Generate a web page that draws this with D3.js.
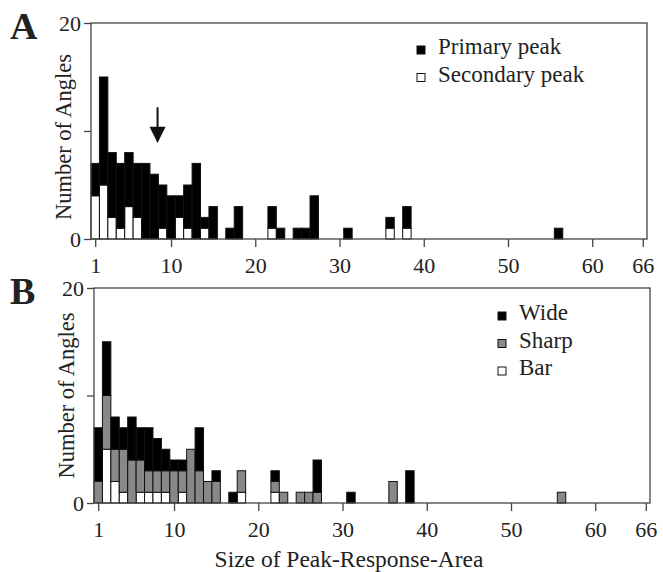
<!DOCTYPE html>
<html>
<head>
<meta charset="utf-8">
<script src="https://cdn.jsdelivr.net/npm/d3@7"></script>
<style>
  body { margin: 0; background: #fff; }
  text { font-family: "Liberation Serif", "Times New Roman", serif; fill: #222; }
</style>
</head>
<body>
<svg id="chart" width="663" height="572"></svg>
<script>
// bin centres (size of peak-response-area) that have any counts
const sizes = [1, 2, 3, 4, 5, 6, 7, 8, 9, 10, 11, 12, 13, 14, 15, 17, 18, 22, 23, 25, 26, 27, 31, 36, 38, 56];

// panel A
const primary   = [3, 10, 6, 6, 5, 5, 7, 6, 4, 4, 2, 4, 7, 1, 3, 1, 3, 2, 1, 1, 1, 4, 1, 1, 2, 1];
const secondary = [4, 5, 2, 1, 3, 2, 0, 0, 1, 0, 2, 1, 0, 1, 0, 0, 0, 1, 0, 0, 0, 0, 0, 1, 1, 0];
const meanSize = 8.4;

// panel B
const barType   = [0, 5, 2, 1, 0, 1, 1, 1, 1, 0, 1, 0, 0, 0, 0, 0, 1, 1, 0, 0, 0, 0, 0, 0, 0, 0];
const sharpType = [2, 5, 3, 4, 4, 3, 2, 2, 2, 3, 2, 5, 3, 2, 2, 0, 2, 1, 1, 1, 1, 1, 0, 2, 0, 1];
const wideType  = [5, 5, 3, 2, 4, 3, 4, 3, 2, 1, 1, 0, 4, 0, 1, 1, 0, 1, 0, 0, 0, 3, 1, 0, 3, 0];

const xTicks = [1, 10, 20, 30, 40, 50, 60, 66];
const yTicks = [0, 10, 20];
const yLabelled = [0, 20];

const svg = d3.select("#chart");

function drawPanel(opt) {
    const x = d3.scaleLinear().domain([0.5, 66.5]).range([opt.left, opt.right]);
    const y = d3.scaleLinear().domain([0, 20]).range([opt.bottom, opt.top]);
    const g = svg.append("g");

    const rows = sizes.map((s, i) => {
        const r = { size: s };
        opt.series.forEach(se => r[se.key] = se.values[i]);
        return r;
    });
    const stack = d3.stack().keys(opt.series.map(se => se.key))(rows);

    stack.forEach((layer, li) => {
        g.append("g")
            .attr("fill", opt.series[li].color)
            .attr("stroke", "#111")
            .attr("stroke-width", 1)
            .selectAll("rect")
            .data(layer.filter(d => d[1] > d[0]))
            .join("rect")
            .attr("x", d => x(d.data.size - 0.5))
            .attr("width", d => x(d.data.size + 0.5) - x(d.data.size - 0.5))
            .attr("y", d => y(d[1]))
            .attr("height", d => y(d[0]) - y(d[1]));
    });

    // frame
    g.append("rect")
        .attr("x", opt.left).attr("y", opt.top)
        .attr("width", opt.right - opt.left).attr("height", opt.bottom - opt.top)
        .attr("fill", "none").attr("stroke", "#444").attr("stroke-width", 1.3);

    const xAxis = g.append("g").attr("transform", `translate(0,${opt.bottom})`)
        .call(d3.axisBottom(x).tickValues(xTicks).tickSize(8).tickPadding(10));
    const yAxis = g.append("g").attr("transform", `translate(${opt.left},0)`)
        .call(d3.axisLeft(y).tickValues(yTicks).tickSize(7).tickPadding(3)
            .tickFormat(d => yLabelled.includes(d) ? d : ""));
    [xAxis, yAxis].forEach(a => {
        a.select(".domain").remove();
        a.selectAll("line").attr("stroke", "#444").attr("stroke-width", 1.3);
        a.selectAll("text").attr("font-size", 22)
            .style("font-family", "'Liberation Serif', serif").attr("fill", "#222");
    });

    g.append("text")
        .attr("transform", `translate(${opt.left - 20},${(opt.top + opt.bottom) / 2 + opt.yLabelShift}) rotate(-90)`)
        .attr("text-anchor", "middle")
        .attr("font-size", 22.5)
        .text("Number of Angles");

    g.append("text")
        .attr("x", 10).attr("y", opt.top + 16)
        .attr("font-size", 38).attr("font-weight", "bold")
        .attr("fill", "#111")
        .text(opt.label);

    // legend
    const leg = g.append("g");
    opt.series.slice().reverse().forEach((se, i) => {
        const ly = opt.legendY + i * 27.5;
        leg.append("rect")
            .attr("x", opt.legendX).attr("y", ly - 8)
            .attr("width", 8).attr("height", 8)
            .attr("fill", se.color).attr("stroke", "#111");
        leg.append("text")
            .attr("x", opt.legendX + 21).attr("y", ly)
            .attr("font-size", 23)
            .text(se.name);
    });

    return { x, y, g };
}

const a = drawPanel({
    label: "A", left: 91, right: 647, top: 23, bottom: 239, yLabelShift: 6,
    legendX: 417, legendY: 54,
    series: [
        { key: "secondary", name: "Secondary peak", values: secondary, color: "#fff" },
        { key: "primary", name: "Primary peak", values: primary, color: "#000" }
    ]
});

// mean arrow in panel A
a.g.append("line")
    .attr("x1", a.x(meanSize)).attr("x2", a.x(meanSize))
    .attr("y1", a.y(12.2)).attr("y2", a.y(10))
    .attr("stroke", "#111").attr("stroke-width", 2);
a.g.append("path")
    .attr("d", `M${a.x(meanSize) - 8},${a.y(10.4)} L${a.x(meanSize) + 8},${a.y(10.4)} L${a.x(meanSize)},${a.y(8.9)} Z`)
    .attr("fill", "#111");

const b = drawPanel({
    label: "B", left: 94, right: 650, top: 288, bottom: 503, yLabelShift: 0,
    legendX: 498, legendY: 320,
    series: [
        { key: "bar", name: "Bar", values: barType, color: "#fff" },
        { key: "sharp", name: "Sharp", values: sharpType, color: "#888" },
        { key: "wide", name: "Wide", values: wideType, color: "#000" }
    ]
});

svg.append("text")
    .attr("x", 349).attr("y", 567)
    .attr("text-anchor", "middle")
    .attr("font-size", 23.5)
    .text("Size of Peak-Response-Area");
</script>
</body>
</html>
